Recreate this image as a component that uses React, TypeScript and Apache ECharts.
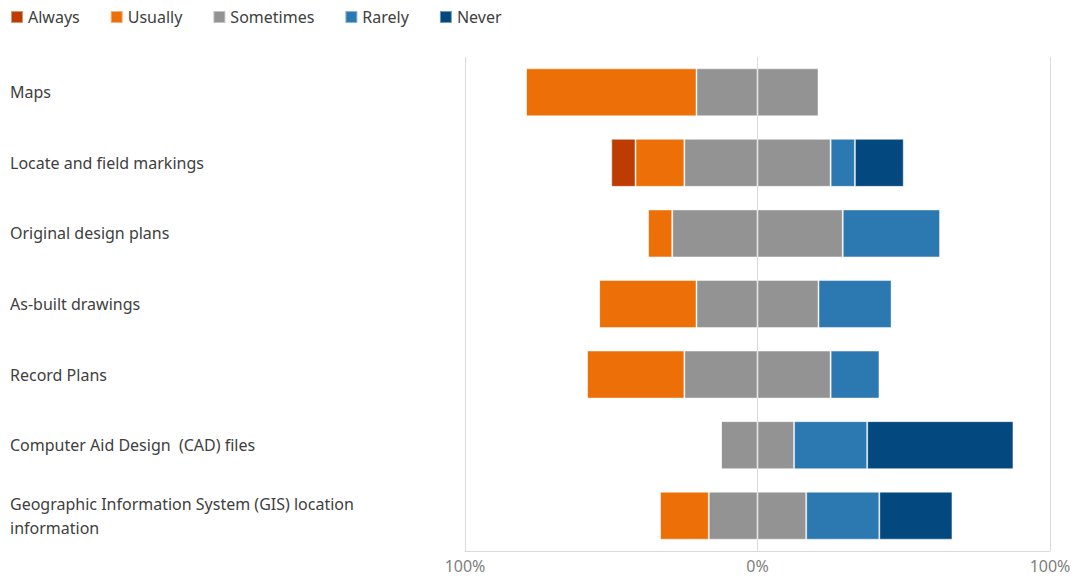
import React, { useEffect, useRef } from "react";
import * as echarts from "echarts";

const categories = [
  "Maps",
  "Locate and field markings",
  "Original design plans",
  "As-built drawings",
  "Record Plans",
  "Computer Aid Design  (CAD) files",
  "Geographic Information System (GIS) location information",
];
const always = [0, 8.3, 0, 0, 0, 0, 0];
const usually = [58.3, 16.7, 8.3, 33.3, 33.3, 0, 16.7];
const sometimes = [41.7, 50, 58.3, 41.7, 50, 25, 33.3];
const rarely = [0, 8.3, 33.3, 25, 16.7, 25, 25];
const never = [0, 16.7, 0, 0, 0, 50, 25];
const legendNames = ["Always", "Usually", "Sometimes", "Rarely", "Never"];
const tickValues = [-100, 0, 100];

const colors: Record<string, string> = {
  Always: "#BC3C03",
  Usually: "#EC7007",
  Sometimes: "#939393",
  Rarely: "#2C78B0",
  Never: "#03487F",
};

const FONT = "'Noto Sans', 'Open Sans', sans-serif";

export default function App() {
  const ref = useRef<HTMLDivElement>(null);
  useEffect(() => {
    if (!ref.current) return;
    const chart = echarts.init(ref.current, undefined, { renderer: "svg" });
    const mk = (name: string, data: number[], sign: number) => ({
      name,
      type: "bar",
      stack: "total",
      barWidth: 48,
      data: data.map((v) => +(v * sign).toFixed(2)),
      itemStyle: {
        color: colors[name],
        borderColor: "rgba(255,255,255,0.45)",
        borderWidth: 1,
      },
      emphasis: { disabled: true },
    });
    chart.setOption({
      animation: false,
      textStyle: { fontFamily: FONT },
      legend: {
        data: legendNames,
        left: 5,
        top: 4,
        itemWidth: 12,
        itemHeight: 12,
        itemGap: 30,
        icon: "rect",
        textStyle: { fontSize: 16, color: "#404040", fontFamily: FONT },
      },
      grid: { left: 465, right: 29, top: 57, bottom: 29, containLabel: false },
      xAxis: {
        type: "value",
        min: -100,
        max: 100,
        interval: 100,
        axisLine: { show: true, lineStyle: { color: "#d9d9d9" } },
        axisTick: { show: false },
        splitLine: { show: true, lineStyle: { color: "#d9d9d9" } },
        axisLabel: {
          fontSize: 16,
          color: "#7f7f7f",
          margin: 7,
          fontFamily: FONT,
          formatter: (v: number) =>
            tickValues.includes(v) ? Math.abs(v) + "%" : "",
        },
      },
      yAxis: {
        type: "category",
        inverse: true,
        data: categories,
        axisLine: { show: false },
        axisTick: { show: false },
        axisLabel: {
          align: "left",
          margin: 455,
          fontSize: 16,
          color: "#404040",
          fontFamily: FONT,
          width: 380,
          overflow: "break",
          lineHeight: 24,
        },
      },
      series: [
        mk("Sometimes", sometimes.map((v) => v / 2), -1),
        mk("Usually", usually, -1),
        mk("Always", always, -1),
        mk("Sometimes", sometimes.map((v) => v / 2), 1),
        mk("Rarely", rarely, 1),
        mk("Never", never, 1),
      ],
    });
    return () => chart.dispose();
  }, []);
  return <div ref={ref} style={{ width: 1079, height: 580, position: "absolute", left: 0, top: 0 }} />;
}
